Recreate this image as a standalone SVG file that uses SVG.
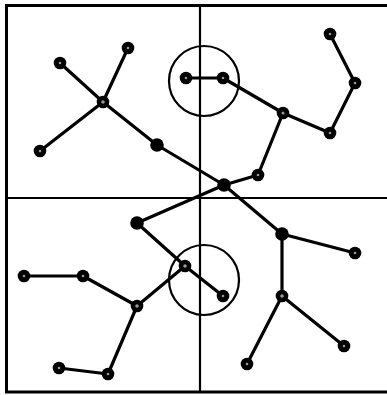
<svg xmlns="http://www.w3.org/2000/svg" width="387" height="395" viewBox="0 0 387 395">
<style>
.frame{fill:none;stroke:#000;stroke-width:3}
.div{stroke:#000;stroke-width:2.2}
.ring{fill:none;stroke:#000;stroke-width:2.2}
.edge{stroke:#000;stroke-width:3.2;stroke-linecap:round}
.n{fill:#000}
.dot{fill:#999}
</style>
<rect width="387" height="395" fill="#fff"/>
<g id="frame">
<polyline class="frame" points="389,5.5 6.5,5.5 6.5,392 389,392"/>
<line class="div" x1="200" y1="5" x2="200" y2="392"/>
<line class="div" x1="6" y1="198" x2="389" y2="198"/>
<circle class="ring" cx="204" cy="81" r="35"/>
<circle class="ring" cx="204" cy="280" r="35"/>
</g>
<g id="connectors">
<line class="edge" x1="60" y1="63" x2="103" y2="102"/>
<line class="edge" x1="128" y1="48" x2="103" y2="102"/>
<line class="edge" x1="40" y1="151" x2="103" y2="102"/>
<line class="edge" x1="103" y1="102" x2="157" y2="145"/>
<line class="edge" x1="157" y1="145" x2="224" y2="185"/>
<line class="edge" x1="224" y1="185" x2="282" y2="234"/>
<line class="edge" x1="186" y1="78" x2="223" y2="78"/>
<line class="edge" x1="223" y1="78" x2="283" y2="113"/>
<line class="edge" x1="283" y1="113" x2="330" y2="133"/>
<line class="edge" x1="330" y1="133" x2="355" y2="83"/>
<line class="edge" x1="355" y1="83" x2="330" y2="34"/>
<line class="edge" x1="283" y1="113" x2="258" y2="175"/>
<line class="edge" x1="258" y1="175" x2="224" y2="185"/>
<line class="edge" x1="224" y1="185" x2="137" y2="223"/>
<line class="edge" x1="137" y1="223" x2="185" y2="266"/>
<line class="edge" x1="185" y1="266" x2="223" y2="296"/>
<line class="edge" x1="185" y1="266" x2="137" y2="306"/>
<line class="edge" x1="24" y1="276" x2="83" y2="276"/>
<line class="edge" x1="83" y1="276" x2="137" y2="306"/>
<line class="edge" x1="137" y1="306" x2="108" y2="374"/>
<line class="edge" x1="108" y1="374" x2="59" y2="368"/>
<line class="edge" x1="282" y1="234" x2="355" y2="253"/>
<line class="edge" x1="282" y1="234" x2="282" y2="296"/>
<line class="edge" x1="282" y1="296" x2="344" y2="346"/>
<line class="edge" x1="282" y1="296" x2="247" y2="364"/>
</g>
<g id="nA"><circle class="n" cx="60" cy="63" r="6.3"/><circle class="dot" cx="60" cy="63" r="1.3"/></g>
<g id="nB"><circle class="n" cx="128" cy="48" r="6.3"/><circle class="dot" cx="128" cy="48" r="1.3"/></g>
<g id="nC"><circle class="n" cx="103" cy="102" r="6.3"/><circle class="dot" cx="103" cy="102" r="1.8"/></g>
<g id="nD"><circle class="n" cx="40" cy="151" r="6.3"/><circle class="dot" cx="40" cy="151" r="1.3"/></g>
<g id="nE"><circle class="n" cx="157" cy="145" r="6.8"/></g>
<g id="nF"><circle class="n" cx="186" cy="78" r="6.3"/><circle class="dot" cx="186" cy="78" r="1.3"/></g>
<g id="nG"><circle class="n" cx="223" cy="78" r="6.3"/><circle class="dot" cx="223" cy="78" r="1.3"/></g>
<g id="nH"><circle class="n" cx="283" cy="113" r="6.3"/><circle class="dot" cx="283" cy="113" r="1.5"/></g>
<g id="nI"><circle class="n" cx="330" cy="133" r="6.3"/><circle class="dot" cx="330" cy="133" r="1.3"/></g>
<g id="nJ"><circle class="n" cx="355" cy="83" r="6.3"/><circle class="dot" cx="355" cy="83" r="1.3"/></g>
<g id="nK"><circle class="n" cx="330" cy="34" r="6.3"/><circle class="dot" cx="330" cy="34" r="1.3"/></g>
<g id="nL"><circle class="n" cx="258" cy="175" r="6.3"/><circle class="dot" cx="258" cy="175" r="1.3"/></g>
<g id="nM"><circle class="n" cx="224" cy="185" r="6.8"/></g>
<g id="nN"><circle class="n" cx="137" cy="223" r="6.8"/></g>
<g id="nO"><circle class="n" cx="185" cy="266" r="6.3"/><circle class="dot" cx="185" cy="266" r="1.8"/></g>
<g id="nP"><circle class="n" cx="24" cy="276" r="6.3"/><circle class="dot" cx="24" cy="276" r="1.3"/></g>
<g id="nQ"><circle class="n" cx="83" cy="276" r="6.3"/><circle class="dot" cx="83" cy="276" r="1.3"/></g>
<g id="nR"><circle class="n" cx="137" cy="306" r="6.3"/><circle class="dot" cx="137" cy="306" r="1.8"/></g>
<g id="nS"><circle class="n" cx="108" cy="374" r="6.3"/><circle class="dot" cx="108" cy="374" r="1.3"/></g>
<g id="nT"><circle class="n" cx="59" cy="368" r="6.3"/><circle class="dot" cx="59" cy="368" r="1.3"/></g>
<g id="nU"><circle class="n" cx="223" cy="296" r="6.3"/><circle class="dot" cx="223" cy="296" r="1.3"/></g>
<g id="nV"><circle class="n" cx="282" cy="234" r="6.8"/></g>
<g id="nW"><circle class="n" cx="355" cy="253" r="6.3"/><circle class="dot" cx="355" cy="253" r="1.3"/></g>
<g id="nX"><circle class="n" cx="282" cy="296" r="6.3"/><circle class="dot" cx="282" cy="296" r="1.8"/></g>
<g id="nY"><circle class="n" cx="344" cy="346" r="6.3"/><circle class="dot" cx="344" cy="346" r="1.3"/></g>
<g id="nZ"><circle class="n" cx="247" cy="364" r="6.3"/><circle class="dot" cx="247" cy="364" r="1.3"/></g>
</svg>
